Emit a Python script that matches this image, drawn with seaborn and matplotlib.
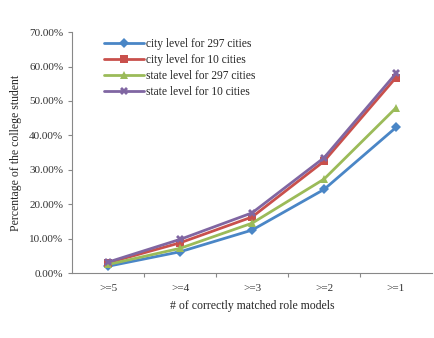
import numpy as np
import pandas as pd
import matplotlib
matplotlib.use("Agg")
import matplotlib.pyplot as plt
import seaborn as sns
from matplotlib.ticker import PercentFormatter

categories = [">=5", ">=4", ">=3", ">=2", ">=1"]
city_297 = [2.0, 6.2, 12.5, 24.3, 42.3]
city_10 = [3.0, 8.8, 16.3, 32.5, 56.8]
state_297 = [2.5, 7.2, 14.5, 27.3, 48.0]
state_10 = [3.2, 9.8, 17.5, 33.5, 58.0]

series_names = ["city level for 297 cities", "city level for 10 cities",
                "state level for 297 cities", "state level for 10 cities"]
series_vals = [city_297, city_10, state_297, state_10]

sns.set_theme(style="white")
plt.rcParams['font.family'] = ['Liberation Serif', 'DejaVu Serif']

rows = []
for name, vals in zip(series_names, series_vals):
    for i, (c, v) in enumerate(zip(categories, vals)):
        rows.append({"series": name, "pos": i, "cat": c, "value": v})
df = pd.DataFrame(rows)

palette = {series_names[0]: "#4a86c6", series_names[1]: "#c9504c",
           series_names[2]: "#9bbb59", series_names[3]: "#8066a2"}
markers = {series_names[0]: "D", series_names[1]: "s",
           series_names[2]: "^", series_names[3]: "X"}
msizes = {series_names[0]: 5, series_names[1]: 6, series_names[2]: 6, series_names[3]: 6}

fig = plt.figure(figsize=(4.35, 3.38), dpi=100)
ax = fig.add_axes([0.166, 0.192, 0.827, 0.713])

for name in series_names:
    sub = df[df["series"] == name]
    sns.lineplot(data=sub, x="pos", y="value", color=palette[name], marker=markers[name],
                 markersize=msizes[name], markeredgewidth=0, linewidth=2, label=name, ax=ax)

ax.set_xlim(-0.5, 4.5)
ax.set_ylim(0, 70)
ax.set_yticks(np.arange(0, 71, 10))
ax.yaxis.set_major_formatter(PercentFormatter(decimals=2))
ax.set_xticks(range(len(categories)))
ax.set_xticklabels(categories)
ax.set_xticks([0.5, 1.5, 2.5, 3.5], minor=True)
ax.tick_params(axis='x', which='major', length=0, labelsize=8, pad=8, colors='#333333')
ax.tick_params(axis='x', which='minor', length=3, width=0.8, color='#888888', direction='out', bottom=True)
ax.tick_params(axis='y', length=3, width=0.8, color='#888888', direction='out', left=True,
               labelsize=8, labelcolor='#333333')

for s in ['top', 'right']:
    ax.spines[s].set_visible(False)
for s in ['left', 'bottom']:
    ax.spines[s].set_color('#888888')
    ax.spines[s].set_linewidth(0.8)

ax.set_xlabel("# of correctly matched role models", fontsize=8.5, labelpad=5)
ax.set_ylabel("Percentage of the college student", fontsize=8.5, labelpad=5)

ax.legend(loc='upper left', bbox_to_anchor=(0.075, 0.995), frameon=False, fontsize=8.3,
          handlelength=3.5, handletextpad=0.2, labelspacing=0.36, borderaxespad=0)

fig.savefig("out.png", dpi=100)
